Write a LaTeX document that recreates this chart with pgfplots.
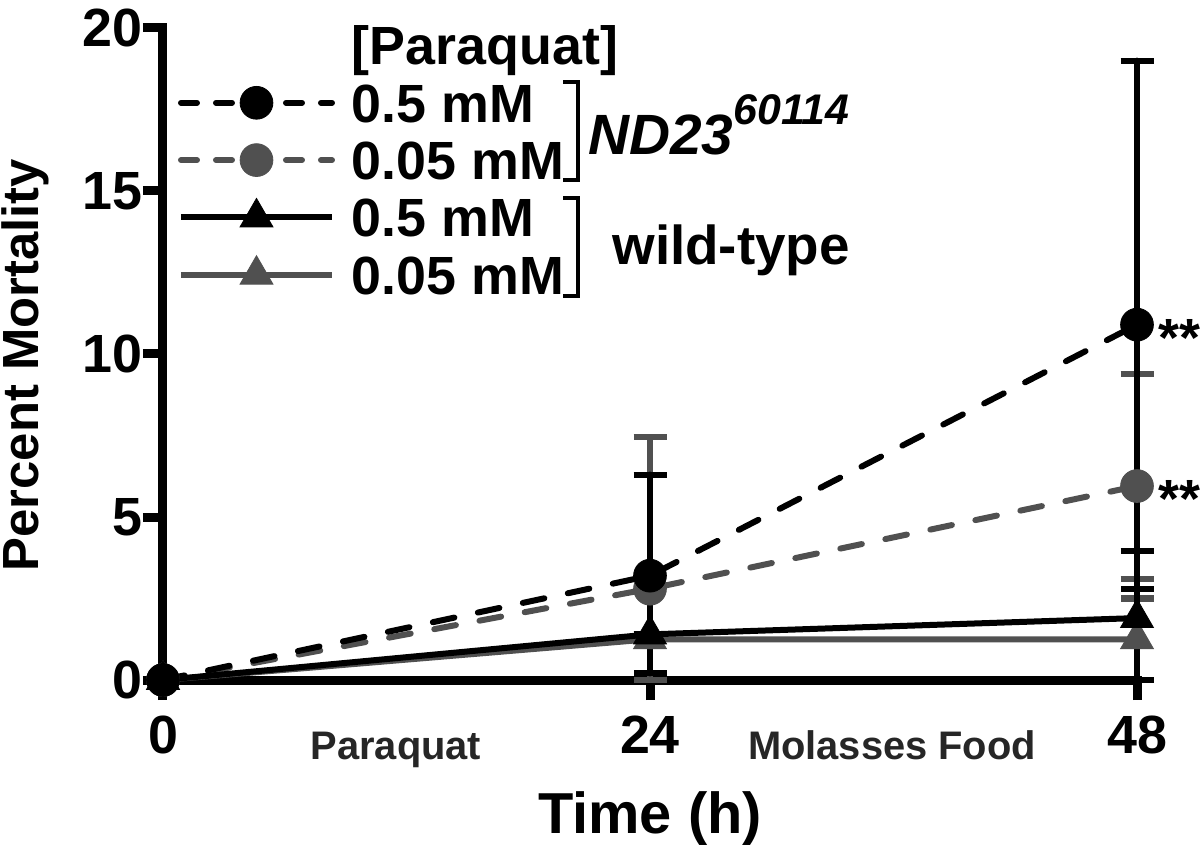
\documentclass[border=0pt]{standalone}
\usepackage{pgfplots}
\pgfplotsset{compat=1.18}
\usepackage{fontspec}
\setmainfont{Liberation Sans}
\definecolor{gr}{RGB}{80,80,80}
\tikzset{
 ndA/.style={black, line width=3bp, line cap=round, dash pattern=on 11bp off 12bp, mark=*, mark size=8.2bp, mark options={solid, fill=black, line width=0.4bp}},
 ndB/.style={gr, line width=3bp, line cap=round, dash pattern=on 11bp off 12bp, mark=*, mark size=8.2bp, mark options={solid, fill=gr, line width=0.4bp}},
 wtA/.style={black, line width=3bp, solid, mark=triangle*, mark size=9.5bp, mark options={solid, fill=black, line width=0.4bp}},
 wtB/.style={gr, line width=3bp, solid, mark=triangle*, mark size=9.5bp, mark options={solid, fill=gr, line width=0.4bp}},
 legdash/.style={dash pattern=on 8bp off 9.5bp, dash phase=0bp},
}
\begin{document}
\begin{tikzpicture}
\path[use as bounding box] (-81.5bp,-86.5bp) rectangle (518.5bp,340bp);
\begin{axis}[
 scale only axis, width=487bp, height=326bp,
 xmin=0, xmax=48, ymin=0, ymax=20,
 axis x line*=bottom, axis y line*=left,
 axis line style={line width=4.5bp, black, line cap=rect},
 xtick={0,24,48}, ytick={0,5,10,15,20},
 tick style={line width=4.5bp, black},
 major tick length=10bp,
 tick align=outside,
 /pgf/number format/assume math mode=true,
 ticklabel style={font=\fontsize{27}{27}\selectfont\bfseries},
 xticklabel style={yshift=-4.5bp},
 yticklabel style={xshift=3bp},
 xlabel={Time (h)},
 ylabel={Percent Mortality},
 xlabel style={at={(axis description cs:0.5,0)}, anchor=base, yshift=-76.5bp, font=\fontsize{29}{29}\selectfont\bfseries},
 ylabel style={at={(axis description cs:-0.1283,0.483)}, anchor=base, font=\fontsize{25.5}{25.5}\selectfont\bfseries},
 clip=false,
 legend style={at={(rel axis cs:0,1)}, anchor=north west, xshift=7.5bp, yshift=1bp, draw=none, fill=none, inner sep=0pt, outer sep=0pt, row sep=9.15bp, column sep=8.5bp, font=\fontsize{27}{27}\selectfont\bfseries, nodes={inner sep=0pt, text height=19.5bp, text depth=0pt}},
 legend cell align=left,
 legend image code/.code={\pgfpathrectangle{\pgfpoint{0bp}{-9.75bp}}{\pgfpoint{78.5bp}{19.5bp}}\pgfusepath{use as bounding box}\draw[mark repeat=2, mark phase=2, #1] plot coordinates {(1.5bp,0bp) (39.25bp,0bp) (77bp,0bp)};},
]
\addlegendimage{empty legend}\addlegendentry{[Paraquat]}
\addlegendimage{ndA, legdash}\addlegendentry{0.5 mM}
\addlegendimage{ndB, legdash}\addlegendentry{0.05 mM}
\addlegendimage{wtA}\addlegendentry{0.5 mM}
\addlegendimage{wtB}\addlegendentry{0.05 mM}

% wild-type 0.05 mM
\addplot[wtB, forget plot, error bars/.cd, y dir=both, y explicit,
  error bar style={gr, line width=3bp, solid}, error mark options={gr, rotate=90, mark size=8.25bp, line width=3bp, solid}]
 table[x=x, y=y, y error plus=ep, y error minus=em] {
x y ep em
0 0 0 0
24 1.25 0 0
48 1.25 1.85 1.25
};
% ND23 0.05 mM
\addplot[ndB, forget plot, error bars/.cd, y dir=both, y explicit,
  error bar style={gr, line width=3bp, solid}, error mark options={gr, rotate=90, mark size=8.25bp, line width=3bp, solid}]
 table[x=x, y=y, y error plus=ep, y error minus=em] {
x y ep em
0 0 0 0
24 2.8 4.65 2.8
48 5.95 3.45 3.45
};
% wild-type 0.5 mM
\addplot[wtA, forget plot, error bars/.cd, y dir=both, y explicit,
  error bar style={black, line width=3bp, solid}, error mark options={black, rotate=90, mark size=8.25bp, line width=3bp, solid}]
 table[x=x, y=y, y error plus=ep, y error minus=em] {
x y ep em
0 0 0 0
24 1.4 0 0
48 1.9 2.05 1.9
};
% ND23 0.5 mM
\addplot[ndA, forget plot, error bars/.cd, y dir=both, y explicit,
  error bar style={black, line width=3bp, solid}, error mark options={black, rotate=90, mark size=8.25bp, line width=3bp, solid}]
 table[x=x, y=y, y error plus=ep, y error minus=em] {
x y ep em
0 0 0 0
24 3.2 3.1 3.0
48 10.9 8.1 8.1
};
\node[anchor=base west, inner sep=0pt, xshift=10.5bp, yshift=-15.7bp, font=\fontsize{27}{27}\selectfont\bfseries] at (axis cs:48,10.9) {**};
\node[anchor=base west, inner sep=0pt, xshift=10.5bp, yshift=-15.7bp, font=\fontsize{27}{27}\selectfont\bfseries] at (axis cs:48,5.95) {**};
\end{axis}
% group brackets and labels
\draw[line width=2bp] (200bp,299bp) -- (207.5bp,299bp) -- (207.5bp,250bp) -- (200bp,250bp);
\draw[line width=2bp] (200bp,241bp) -- (207.5bp,241bp) -- (207.5bp,192bp) -- (200bp,192bp);
\node[anchor=base west, inner sep=0pt, font=\fontsize{28.5}{28.5}\selectfont\bfseries\itshape] at (212.5bp,262.5bp) {ND23\raisebox{15bp}{\fontsize{21.5}{21.5}\selectfont 60114}};
\node[anchor=base west, inner sep=0pt, font=\fontsize{27.5}{27.5}\selectfont\bfseries] at (224.5bp,207.5bp) {wild-type};
\node[anchor=base, inner sep=0pt, text=black!85, font=\fontsize{20}{20}\selectfont\bfseries] at (116.5bp,-39.5bp) {Paraquat};
\node[anchor=base, inner sep=0pt, text=black!85, font=\fontsize{20}{20}\selectfont\bfseries] at (364.5bp,-39.5bp) {Molasses Food};
\end{tikzpicture}
\end{document}
